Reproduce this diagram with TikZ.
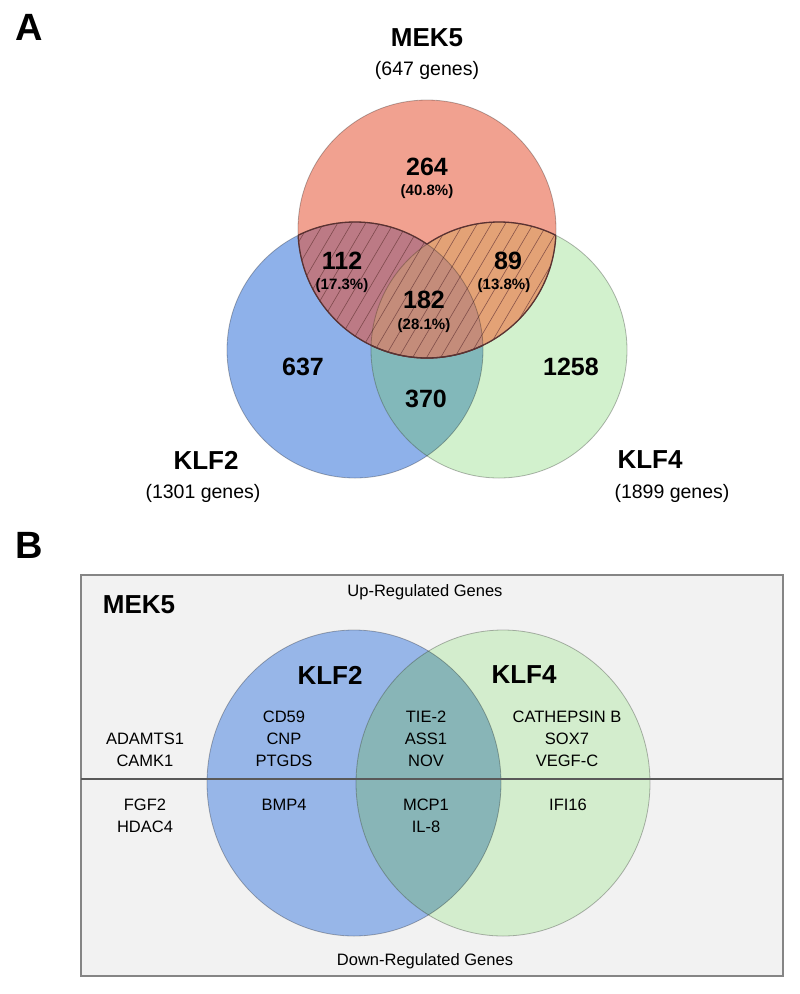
\documentclass[tikz,border=0pt]{standalone}
\usepackage{fontspec}
\setmainfont{Liberation Sans}
\definecolor{redA}{HTML}{F1A190}
\definecolor{blueA}{HTML}{8EB1EA}
\definecolor{greenA}{HTML}{D2F1CD}
\definecolor{bgA}{HTML}{82B8BA}
\definecolor{rbA}{HTML}{BC7A85}
\definecolor{rgA}{HTML}{E3A276}
\definecolor{rbgA}{HTML}{C48C7A}
\definecolor{hatchc}{HTML}{6A3A3A}
\definecolor{darkedge}{HTML}{5A3232}
\definecolor{blueB}{HTML}{97B6E8}
\definecolor{greenB}{HTML}{D3EDCD}
\definecolor{bgB}{HTML}{88B5B7}
\definecolor{boxgray}{HTML}{F2F2F2}
\definecolor{boxedge}{HTML}{858585}
\tikzset{
  num/.style={font=\fontsize{25}{30}\selectfont\bfseries, inner sep=0pt},
  pct/.style={font=\fontsize{15}{18}\selectfont\bfseries, inner sep=0pt},
  ttl/.style={font=\fontsize{26}{30}\selectfont\bfseries, inner sep=0pt},
  sub/.style={font=\fontsize{19.5}{22}\selectfont, inner sep=0pt},
  gene/.style={font=\fontsize{16.5}{22}\selectfont, inner sep=0pt, align=center},
  panel/.style={font=\fontsize{38}{40}\selectfont\bfseries, inner sep=0pt},
  hatchline/.style={draw=hatchc, draw opacity=0.75, line width=0.6pt},
  circline/.style={draw=black, draw opacity=0.28, line width=0.8pt},
  darkline/.style={draw=darkedge, line width=1.3pt},
}
\begin{document}
\begin{tikzpicture}[x=1pt,y=-1pt]
\useasboundingbox (0,0) rectangle (800,994);
\fill[white] (0,0) rectangle (800,994);
% ---------------- Panel A ----------------
\coordinate (R) at (427,229);
\coordinate (Bc) at (355,350);
\coordinate (Gc) at (499,350);
\fill[blueA] (Bc) circle[radius=128pt];
\fill[greenA] (Gc) circle[radius=128pt];
\begin{scope}
  \clip (Bc) circle[radius=128pt];
  \fill[bgA] (Gc) circle[radius=128pt];
\end{scope}
\fill[redA] (R) circle[radius=129pt];
\begin{scope}
  \clip (R) circle[radius=129pt];
  \fill[rbA] (Bc) circle[radius=128pt];
  \fill[rgA] (Gc) circle[radius=128pt];
  \begin{scope}
    \clip (Bc) circle[radius=128pt];
    \fill[rbgA] (Gc) circle[radius=128pt];
  \end{scope}
  \begin{scope}
    \clip (Bc) circle[radius=128pt];
    \foreach \i in {0,...,40} \draw[hatchline] (90+\i*14,430) -- ++(170,-289);
  \end{scope}
  \begin{scope}
    \clip (Gc) circle[radius=128pt];
    \begin{scope}[even odd rule]
      \clip (0,0) rectangle (800,994) (Bc) circle[radius=128pt];
      \foreach \i in {0,...,40} \draw[hatchline] (90+\i*14,430) -- ++(170,-289);
    \end{scope}
  \end{scope}
\end{scope}
\draw[circline] (Bc) circle[radius=128pt];
\draw[circline] (Gc) circle[radius=128pt];
\draw[circline] (R) circle[radius=129pt];
% dark outline of hatched region
\begin{scope}
  \clip (R) circle[radius=129pt];
  \begin{scope}[even odd rule]
    \clip (0,0) rectangle (800,994) (Gc) circle[radius=128pt];
    \draw[darkline] (Bc) circle[radius=128pt];
  \end{scope}
  \begin{scope}[even odd rule]
    \clip (0,0) rectangle (800,994) (Bc) circle[radius=128pt];
    \draw[darkline] (Gc) circle[radius=128pt];
  \end{scope}
\end{scope}
\begin{scope}
  \clip (Bc) circle[radius=128pt];
  \draw[darkline] (R) circle[radius=129pt];
\end{scope}
\begin{scope}
  \clip (Gc) circle[radius=128pt];
  \draw[darkline] (R) circle[radius=129pt];
\end{scope}
% labels A
\node[panel] (pA) at (29,27) {A};
\node[ttl] (tMEK) at (427,38) {MEK5};
\node[sub] (sMEK) at (427,70) {(647 genes)};
\node[num] (n264) at (427,167) {264};
\node[pct] (p264) at (427,192) {(40.8\%)};
\node[num] (n112) at (342,261) {112};
\node[pct] (p112) at (342,286) {(17.3\%)};
\node[num] (n89) at (508,261) {89};
\node[pct] (p89) at (504,286) {(13.8\%)};
\node[num] (n182) at (424,300) {182};
\node[pct] (p182) at (424,326) {(28.1\%)};
\node[num] (n637) at (303,367) {637};
\node[num] (n1258) at (571,367) {1258};
\node[num] (n370) at (426,399) {370};
\node[ttl] (tKLF2) at (206,460) {KLF2};
\node[sub] (sKLF2) at (203,493) {(1301 genes)};
\node[ttl] (tKLF4) at (650,460) {KLF4};
\node[sub] (sKLF4) at (672,493) {(1899 genes)};
% ---------------- Panel B ----------------
\node[panel] (pB) at (29,545) {B};
\draw[draw=boxedge, line width=1.5pt, fill=boxgray] (81,575) rectangle (783,976);
\coordinate (BB) at (354,783);
\coordinate (GB) at (503,783);
\fill[blueB] (BB) ellipse[x radius=147pt, y radius=153pt];
\fill[greenB] (GB) ellipse[x radius=147pt, y radius=153pt];
\begin{scope}
  \clip (BB) ellipse[x radius=147pt, y radius=153pt];
  \fill[bgB] (GB) ellipse[x radius=147pt, y radius=153pt];
\end{scope}
\draw[circline] (BB) ellipse[x radius=147pt, y radius=153pt];
\draw[circline] (GB) ellipse[x radius=147pt, y radius=153pt];
\coordinate (hl) at (81,779);
\coordinate (hr) at (783,779);
\draw[draw=black!65, line width=1.3pt] (hl) -- (hr);
\node[gene] (up) at (425,592) {Up-Regulated Genes};
\node[gene] (down) at (425,961) {Down-Regulated Genes};
\node[ttl] (bMEK) at (139,605) {MEK5};
\node[ttl] (bKLF2) at (330,675) {KLF2};
\node[ttl] (bKLF4) at (524,675) {KLF4};
\node[gene] (g1) at (145,750) {ADAMTS1\\CAMK1};
\node[gene] (g2) at (284,739) {CD59\\CNP\\PTGDS};
\node[gene] (g3) at (426,739) {TIE-2\\ASS1\\NOV};
\node[gene] (g4) at (567,739) {CATHEPSIN B\\SOX7\\VEGF-C};
\node[gene] (g5) at (145,816) {FGF2\\HDAC4};
\node[gene] (g6) at (284,805) {BMP4};
\node[gene] (g7) at (426,816) {MCP1\\IL-8};
\node[gene] (g8) at (568,805) {IFI16};
\end{tikzpicture}
\end{document}
